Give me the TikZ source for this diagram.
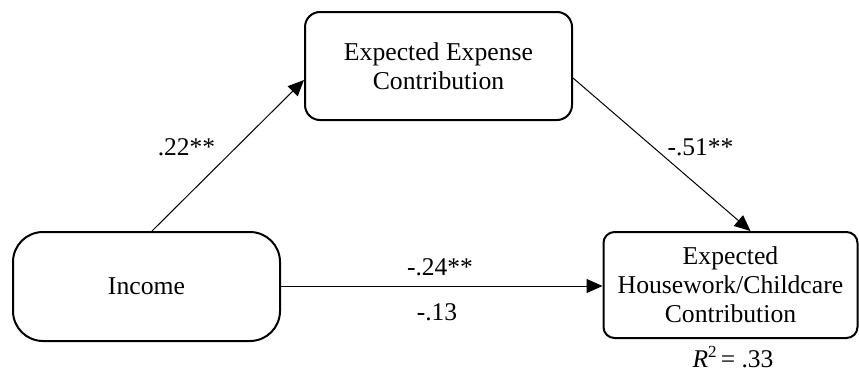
\documentclass[tikz,border=0pt]{standalone}
\usepackage{fontspec}
\setmainfont{Liberation Serif}
\usetikzlibrary{arrows.meta,calc}
\begin{document}
\begin{tikzpicture}[x=1pt,y=-1pt,
  box/.style={draw,line width=2pt,align=center,inner sep=0pt,
    font=\fontsize{25.7}{29}\selectfont},
  conn/.style={line width=1pt,-{Triangle[length=16pt,width=14pt]}},
  lbl/.style={font=\fontsize{25.5}{29}\selectfont,inner sep=0pt}]
\useasboundingbox (0,0) rectangle (859,375);
\node[box,rounded corners=15pt,minimum width=267pt,minimum height=108pt] (top) at (438.5,66) {Expected Expense\\Contribution};
\node[box,rounded corners=30pt,minimum width=267pt,minimum height=109pt] (inc) at (146.5,286.5) {Income};
\node[box,rounded corners=11pt,minimum width=254pt,minimum height=106pt] (out) at (730.5,285) {Expected\\Housework/Childcare\\Contribution};
\draw[conn] ($(inc.north)+(5.5,0)$) -- ($(top.west)+(0,14)$);
\draw[conn] ($(top.east)+(0,12)$) -- ($(out.north)+(20,0)$);
\draw[conn] (inc.east |- 0,286) -- (out.west |- 0,286);
\node[lbl] (l1) at (186.5,147) {.22**};
\node[lbl] (l2) at (700.5,147) {-.51**};
\node[lbl] (l3) at (440,267) {-.24**};
\node[lbl] (l4) at (437,312) {-.13};
\node[lbl] (r2) at (733,357) {\textit{R}\raisebox{0.38em}{\fontsize{17}{17}\selectfont 2}\,= .33};
\end{tikzpicture}
\end{document}
